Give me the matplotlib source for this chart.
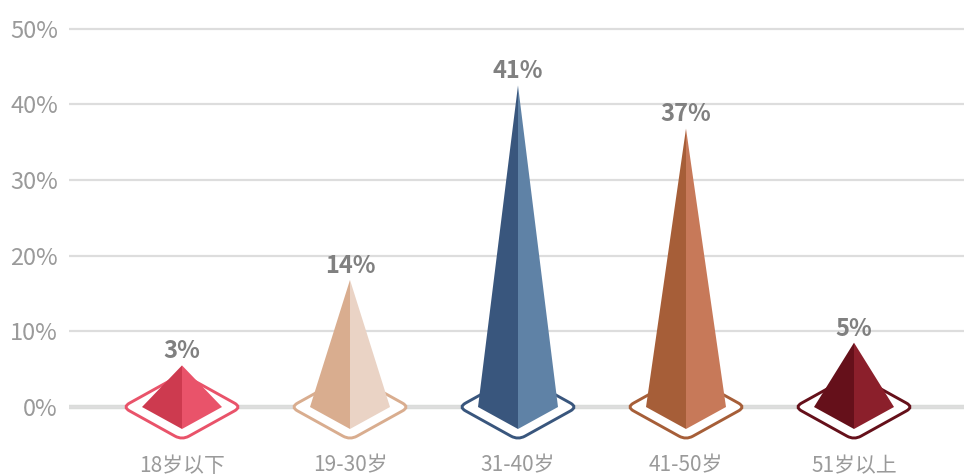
import numpy as np
import matplotlib
matplotlib.use('Agg')
import matplotlib.pyplot as plt
from matplotlib.path import Path
from matplotlib.patches import PathPatch, Polygon

plt.rcParams['font.family'] = ['Noto Sans CJK SC', 'DejaVu Sans']

# data
cats = ['18岁以下', '19-30岁', '31-40岁', '41-50岁', '51岁以上']
vals = [3, 14, 41, 37, 5]                 # label values (%)
tips = [5.5, 16.8, 42.5, 36.8, 8.5]       # drawn pyramid tip heights (%)
dark = ['#CD3A4F', '#D9AD8F', '#39567D', '#A65E38', '#65101A']
light = ['#E9536A', '#EAD3C5', '#5F82A6', '#C77959', '#8B1F2B']
yticks = [0, 10, 20, 30, 40, 50]

W, H = 964, 475
fig = plt.figure(figsize=(W/100, H/100), dpi=100)
left_px, bot_px, top_px = 69, 445, 10
ax = fig.add_axes([left_px/W, (H-bot_px)/H, 1-left_px/W, (bot_px-top_px)/H])
pxx = 168.0        # px per category
pxy = 7.566        # px per percent
ax.set_xlim((left_px-182)/pxx, (W-182)/pxx)
ax.set_ylim(-(bot_px-407)/pxy, 50+(407-top_px-378.3)/pxy)

ax.set_yticks(yticks)
ax.set_yticklabels([f'{t}%' for t in yticks], fontsize=17, color='#9a9a9a', fontweight='light')
ax.set_xticks(range(len(cats)))
ax.set_xticklabels(cats, fontsize=15, color='#9a9a9a', fontweight='light')
ax.tick_params(length=0)
ax.tick_params(axis='y', pad=8)
ax.tick_params(axis='x', pad=7)
for s in ax.spines.values():
    s.set_visible(False)
ax.yaxis.grid(True, color='#dddddd', lw=1.6, zorder=0)
ax.set_axisbelow(True)
ax.axhline(0, color='#dadcda', lw=3.2, zorder=0.5)


def rounded_diamond(cx, hw, hh, r):
    # corners in px offsets, converted to data
    pts = np.array([[-hw, 0], [0, -hh], [hw, 0], [0, hh]], float)
    verts, codes = [], []
    n = len(pts)
    for k in range(n):
        V, P, N = pts[k], pts[k-1], pts[(k+1) % n]
        A = V + r*(P-V)/np.linalg.norm(P-V)
        B = V + r*(N-V)/np.linalg.norm(N-V)
        verts += [A, V, B]
        codes += [Path.MOVETO if k == 0 else Path.LINETO, Path.CURVE3, Path.CURVE3]
    verts.append(verts[0]); codes.append(Path.CLOSEPOLY)
    verts = np.array(verts)
    verts[:, 0] = cx + verts[:, 0]/pxx
    verts[:, 1] = verts[:, 1]/pxy
    return Path(verts, codes)


for i, (v, t) in enumerate(zip(vals, tips)):
    dia = rounded_diamond(i, 59.5, 33, 8)
    ax.add_patch(PathPatch(dia, facecolor='white', edgecolor=dark[i] if i else light[i],
                           lw=2.1, zorder=2, clip_on=False))
    hw = 40/pxx
    front = -22/pxy
    ax.add_patch(Polygon([(i, t), (i-hw, 0), (i, front)], closed=True,
                         facecolor=dark[i], edgecolor='none', zorder=3))
    ax.add_patch(Polygon([(i, t), (i, front), (i+hw, 0)], closed=True,
                         facecolor=light[i], edgecolor='none', zorder=3))
    ax.annotate(f'{v}%', (i, t), xytext=(0, 1.5), textcoords='offset points',
                ha='center', va='bottom', fontsize=17, fontweight='bold',
                color='#808080', zorder=4)

fig.savefig('out.png', dpi=100, facecolor='white')
